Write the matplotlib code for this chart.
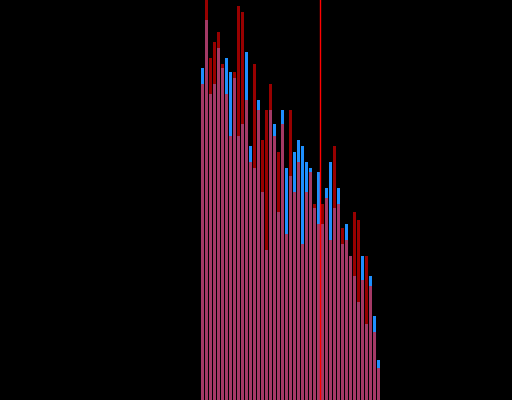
import numpy as np
import matplotlib
matplotlib.use('Agg')
from matplotlib import pyplot as plt

# bar heights, one per bin (bin index 0..44)
blue_vals = [83, 95, 76.5, 79, 88, 83, 85.5, 82, 80.5, 66, 69, 87, 63.5, 58, 75,
             52, 37.5, 72.5, 69, 47, 72.5, 58, 56, 62, 65, 63.5, 59.5, 58, 48, 57,
             44, 53, 59.5, 48, 53, 39, 44, 36, 31, 24.5, 36, 19, 31, 21, 10]
red_vals = [79, 104, 85.5, 89.5, 92, 84, 76.5, 66, 82, 98.5, 97, 75, 59.5, 84, 72.5,
            65, 72.5, 79, 66, 62, 69, 41.5, 72.5, 52, 59.5, 39, 52, 57, 49, 44,
            49, 50.5, 40, 63.5, 49, 43, 40, 36, 47, 45, 30, 36, 28.5, 17, 8]
split_at = 29.5

x = np.arange(len(blue_vals))

fig = plt.figure(figsize=(5.12, 4.0), dpi=100, facecolor='black')
ax = fig.add_axes([0, 0, 1, 1])
ax.set_facecolor('black')

ax.bar(x, blue_vals, width=0.75, color='dodgerblue', linewidth=0)
ax.bar(x, red_vals, width=0.75, color='red', alpha=0.6, linewidth=0)
ax.axvline(split_at, color='red', linewidth=1.0, snap=False)

ax.set_xlim(-50.625, 77.375)
ax.set_ylim(0, 100)
ax.axis('off')

fig.savefig('out.png', dpi=100, facecolor='black')
